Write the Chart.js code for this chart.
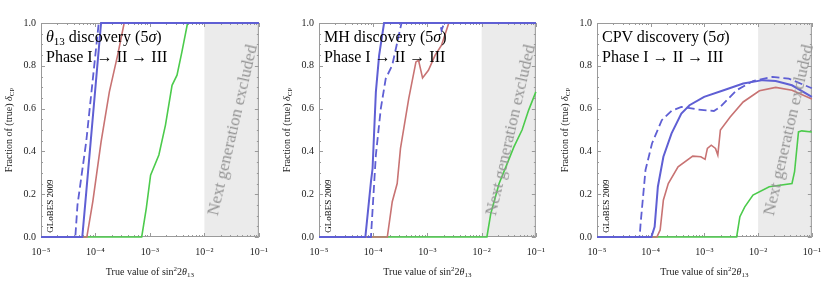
<!DOCTYPE html>
<html lang="en">
<head>
  <meta charset="UTF-8" />
  <title>Discovery reach, Phase I → II → III</title>
  <script src="https://cdn.jsdelivr.net/npm/chart.js@4.4.1/dist/chart.umd.min.js"></script>
  <style>
    body { margin: 0; background: #fff; width: 830px; height: 287px; position: relative; overflow: hidden;
           font-family: "Liberation Serif", "DejaVu Serif", serif; }
    .panel { position: absolute; top: 0; }
    .lbl { position: absolute; white-space: nowrap; color: #000; line-height: 1; }
    .rot { transform: translate(-50%, -50%) rotate(-90deg); }
    .title { font-size: 16px; line-height: 20px; }
    .title sub { font-size: 11px; vertical-align: -3px; line-height: 0; }
    .axis { font-size: 10px; color: #222; }
    .axis sub { font-size: 7px; vertical-align: -2px; line-height: 0; }
    .axis sup { font-size: 7px; vertical-align: 4px; line-height: 0; }
    .globes { font-size: 9px; }
    .excl { font-size: 17px; color: #939393; transform: translate(-50%, -50%) rotate(-77deg); }
  </style>
</head>
<body>
  <canvas id="c1" class="panel" width="277" height="287" style="left:0px"></canvas>
  <canvas id="c2" class="panel" width="277" height="287" style="left:277px"></canvas>
  <canvas id="c3" class="panel" width="276" height="287" style="left:554px"></canvas>

  <script>
    // x values are log10(sin^2 2theta13), axis runs 10^-5 .. 10^-1
    const xTickExp = [-5, -4, -3, -2, -1];
    const xTickLabels = ['10⁻⁵', '10⁻⁴', '10⁻³', '10⁻²', '10⁻¹'];
    const yTickValues = [0, 0.2, 0.4, 0.6, 0.8, 1.0];
    const excludedFrom = -2;

    const panelTitles = [
      '<i>θ</i><sub>13</sub> discovery (5<i>σ</i>)',
      'MH discovery (5<i>σ</i>)',
      'CPV discovery (5<i>σ</i>)'
    ];

    // theta13 discovery
    const th13BlueX = [-5, -4.242, -4.169, -3.897, -1];
    const th13BlueY = [0, 0, 0.21, 1, 1];
    const th13DashX = [-5, -4.37, -4.33, -4.17, -3.94, -1];
    const th13DashY = [0, 0, 0.15, 0.445, 1, 1];
    const th13RedX = [-5, -4.158, -4.049, -3.897, -3.745, -3.594, -3.473, -1];
    const th13RedY = [0, 0, 0.165, 0.445, 0.678, 0.849, 1, 1];
    const th13GreenX = [-5, -3.151, -3.067, -2.988, -2.836, -2.715, -2.594, -2.503, -2.413, -2.309, -1];
    const th13GreenY = [0, 0, 0.134, 0.289, 0.383, 0.523, 0.709, 0.756, 0.865, 1, 1];

    // mass hierarchy discovery
    const mhBlueX = [-5, -4.145, -4.042, -4.012, -3.951, -3.891, -3.8, -1];
    const mhBlueY = [0, 0, 0.258, 0.32, 0.678, 0.849, 1, 1];
    const mhDashX = [-5, -4.042, -3.951, -3.86, -3.769, -3.649, -3.478, -2.77, -2.74, -2.69, -1];
    const mhDashY = [0, 0, 0.383, 0.6, 0.74, 0.803, 1, 1, 0.966, 1, 1];
    const mhRedX = [-5, -3.74, -3.649, -3.558, -3.497, -3.345, -3.212, -3.164, -3.09, -2.982, -2.86, -2.74, -2.606, -1];
    const mhRedY = [0, 0, 0.165, 0.25, 0.414, 0.647, 0.818, 0.826, 0.743, 0.779, 0.849, 0.896, 1, 1];
    const mhGreenX = [-5, -1.903, -1.831, -1.678, -1.527, -1.405, -1.255, -1.133, -1];
    const mhGreenY = [0, 0, 0.11, 0.25, 0.344, 0.421, 0.5, 0.593, 0.678];

    // CP violation discovery
    const cpvBlueX = [-5, -3.988, -3.927, -3.867, -3.764, -3.612, -3.43, -3.278, -3.006, -2.642, -2.278, -1.915, -1.673, -1.37, -1];
    const cpvBlueY = [0, 0, 0.048, 0.235, 0.375, 0.484, 0.577, 0.616, 0.655, 0.686, 0.717, 0.733, 0.729, 0.709, 0.655];
    const cpvDashX = [-5, -4.206, -4.188, -4.097, -3.976, -3.794, -3.612, -3.43, -3.127, -2.824, -2.703, -2.4, -2.096, -1.733, -1.43, -1];
    const cpvDashY = [0, 0, 0.064, 0.313, 0.437, 0.546, 0.59, 0.608, 0.596, 0.589, 0.608, 0.686, 0.729, 0.748, 0.74, 0.695];
    const cpvRedX = [-5, -3.885, -3.824, -3.764, -3.673, -3.491, -3.218, -3.067, -2.988, -2.945, -2.873, -2.794, -2.751, -2.703, -2.521, -2.279, -1.976, -1.673, -1.37, -1];
    const cpvRedY = [0, 0, 0.033, 0.173, 0.25, 0.328, 0.378, 0.375, 0.363, 0.414, 0.429, 0.414, 0.383, 0.5, 0.561, 0.631, 0.683, 0.699, 0.686, 0.645];
    const cpvGreenX = [-5, -2.4, -2.34, -2.249, -2.096, -1.794, -1.37, -1.322, -1.249, -1.188, -1];
    const cpvGreenY = [0, 0, 0.095, 0.141, 0.196, 0.235, 0.25, 0.305, 0.491, 0.496, 0.491];

    const BLUE = '#5f5fd4';
    const RED = '#c87373';
    const GREEN = '#4ccb4c';

    function series(xs, ys, color, width, dash) {
      return {
        data: xs.map((x, i) => ({ x, y: ys[i] })),
        borderColor: color,
        borderWidth: width,
        borderDash: dash || [],
        pointRadius: 0,
        tension: 0,
        fill: false,
        clip: 3
      };
    }

    // first dataset is painted on top
    const panels = [
      { id: 'c1', left: 0, yw: 41, padR: 16, data: [
        series(th13BlueX, th13BlueY, BLUE, 2),
        series(th13DashX, th13DashY, BLUE, 1.8, [8, 4]),
        series(th13RedX, th13RedY, RED, 1.6),
        series(th13GreenX, th13GreenY, GREEN, 1.6)] },
      { id: 'c2', left: 277, yw: 42, padR: 15, data: [
        series(mhBlueX, mhBlueY, BLUE, 2),
        series(mhDashX, mhDashY, BLUE, 1.8, [8, 4]),
        series(mhRedX, mhRedY, RED, 1.6),
        series(mhGreenX, mhGreenY, GREEN, 1.6)] },
      { id: 'c3', left: 554, yw: 43, padR: 13, data: [
        series(cpvBlueX, cpvBlueY, BLUE, 2),
        series(cpvDashX, cpvDashY, BLUE, 1.8, [8, 4]),
        series(cpvRedX, cpvRedY, RED, 1.6),
        series(cpvGreenX, cpvGreenY, GREEN, 1.6)] }
    ];

    // grey band + frame with inward ticks on all four sides
    const framePlugin = {
      id: 'frame',
      beforeDatasetsDraw(chart) {
        const { ctx, chartArea: a, scales: { x, y } } = chart;
        ctx.save();
        const x0 = x.getPixelForValue(excludedFrom);
        ctx.fillStyle = '#ebebeb';
        ctx.fillRect(x0, a.top, a.right - x0, a.bottom - a.top);

        ctx.strokeStyle = '#9a9a9a';
        ctx.lineWidth = 1;
        ctx.strokeRect(a.left + 0.5, a.top + 0.5, a.right - a.left - 1, a.bottom - a.top - 1);
        ctx.beginPath();
        for (let k = -5; k <= -1; k++) {
          for (let m = 1; m <= 9; m++) {
            const v = k + Math.log10(m);
            if (v > -1) break;
            const px = Math.round(x.getPixelForValue(v)) + 0.5;
            const len = m === 1 ? 4 : 2;
            ctx.moveTo(px, a.bottom); ctx.lineTo(px, a.bottom - len);
            ctx.moveTo(px, a.top); ctx.lineTo(px, a.top + len);
          }
        }
        for (let i = 0; i <= 20; i++) {
          const py = Math.round(y.getPixelForValue(i * 0.05)) + 0.5;
          const len = i % 4 === 0 ? 4 : 2;
          ctx.moveTo(a.left, py); ctx.lineTo(a.left + len, py);
          ctx.moveTo(a.right, py); ctx.lineTo(a.right - len, py);
        }
        ctx.stroke();
        ctx.restore();
      }
    };

    const tickFont = { family: '"Liberation Serif", "DejaVu Serif", serif', size: 10 };

    function addLabel(html, cls, left, top) {
      const d = document.createElement('div');
      d.className = 'lbl ' + cls;
      d.innerHTML = html;
      d.style.left = left + 'px';
      d.style.top = top + 'px';
      document.body.appendChild(d);
      return d;
    }

    panels.forEach((p, idx) => {
      const chart = new Chart(document.getElementById(p.id), {
        type: 'line',
        data: { datasets: p.data },
        options: {
          responsive: false,
          animation: false,
          devicePixelRatio: 1,
          layout: { padding: { left: 0, right: p.padR, top: 23, bottom: 0 } },
          plugins: { legend: { display: false }, tooltip: { enabled: false } },
          scales: {
            x: {
              type: 'linear', min: -5, max: -1,
              afterBuildTicks: s => { s.ticks = xTickExp.map(v => ({ value: v })); },
              afterFit: s => { s.height = 50; },
              ticks: { callback: (v, i) => xTickLabels[i], font: tickFont, color: '#222', padding: 9, maxRotation: 0, autoSkip: false },
              grid: { display: false, drawTicks: false },
              border: { display: false }
            },
            y: {
              min: 0, max: 1,
              afterBuildTicks: s => { s.ticks = yTickValues.map(v => ({ value: v })); },
              afterFit: s => { s.width = p.yw; },
              ticks: { callback: v => v.toFixed(1), font: tickFont, color: '#222', padding: 5 },
              grid: { display: false, drawTicks: false },
              border: { display: false }
            }
          }
        },
        plugins: [framePlugin]
      });

      const a = chart.chartArea;
      const L = p.left + a.left;
      const midX = p.left + (a.left + a.right) / 2;
      const midY = (a.top + a.bottom) / 2;
      addLabel(panelTitles[idx] + '<br>Phase I → II → III', 'title', L + 5, 27);
      addLabel('GLoBES 2009', 'globes rot', L + 9, 206);
      addLabel('Next generation excluded', 'excl', L + 191, midY);
      addLabel('Fraction of (true) <i>δ</i><sub>CP</sub>', 'axis rot', L - 32, midY);
      const xt = addLabel('True value of sin<sup>2</sup>2<i>θ</i><sub>13</sub>', 'axis', midX, 272);
      xt.style.transform = 'translate(-50%, -50%)';
    });
  </script>
</body>
</html>
